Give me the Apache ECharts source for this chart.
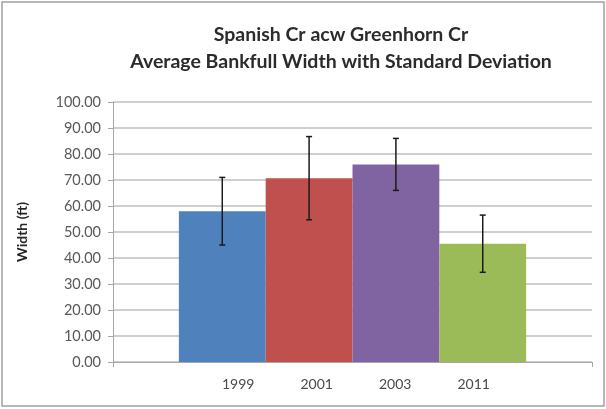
<!DOCTYPE html>
<html lang="en">

<head>
    <meta charset="UTF-8">
    <title>Spanish Cr acw Greenhorn Cr</title>
    <script src="https://cdn.jsdelivr.net/npm/echarts@6/dist/echarts.min.js"></script>
</head>
<style>
    * {
        padding: 0;
        margin: 0;
    }

    .box {
        width: 606px;
        height: 409px;
    }
</style>

<body>
    <div class="box" id="myChart"></div>
    <script>
        // data
        const years = ["1999", "2001", "2003", "2011"];
        const avgWidth = [58.0, 70.7, 76.0, 45.5];
        const stdDev = [13.0, 16.0, 10.0, 11.0];
        const yTicks = [0, 10, 20, 30, 40, 50, 60, 70, 80, 90, 100];

        const colors = ["#4f81bd", "#c0504d", "#8064a2", "#9bbb59"];
        const catGap = 0.275; // share of the category band left empty

        let myChart = echarts.init(document.getElementById('myChart'));

        let barSeries = years.map(function (y, i) {
            return {
                name: y,
                type: "bar",
                barGap: "0%",
                barCategoryGap: (catGap * 100) + "%",
                itemStyle: { color: colors[i] },
                data: [avgWidth[i]]
            };
        });

        // error bars drawn over the bars: [category, low, high, series index]
        let errData = years.map(function (y, i) {
            return [0, avgWidth[i] - stdDev[i], avgWidth[i] + stdDev[i], i];
        });

        let errSeries = {
            type: "custom",
            name: "sd",
            encode: { x: 0, y: [1, 2] },
            z: 10,
            renderItem: function (params, api) {
                let idx = api.value(3);
                let band = api.size([1, 0])[0];
                let barW = band * (1 - catGap) / years.length;
                let lo = api.coord([api.value(0), api.value(1)]);
                let hi = api.coord([api.value(0), api.value(2)]);
                let x = lo[0] + (idx - (years.length - 1) / 2) * barW;
                let cap = 3;
                let st = { stroke: "#1a1a1a", lineWidth: 1.5 };
                return {
                    type: "group",
                    children: [
                        { type: "line", shape: { x1: x, y1: hi[1], x2: x, y2: lo[1] }, style: st },
                        { type: "line", shape: { x1: x - cap, y1: hi[1], x2: x + cap, y2: hi[1] }, style: st },
                        { type: "line", shape: { x1: x - cap, y1: lo[1], x2: x + cap, y2: lo[1] }, style: st }
                    ]
                };
            },
            data: errData
        };

        let option = {
            backgroundColor: "#ffffff",
            animation: false,
            graphic: [{
                type: "rect",
                shape: { x: 2, y: 2, width: 602, height: 404 },
                style: { fill: "none", stroke: "#a0a0a0", lineWidth: 1.5 }
            }],
            title: {
                text: "Spanish Cr acw Greenhorn Cr\nAverage Bankfull Width with Standard Deviation",
                left: 336,
                top: 16,
                textAlign: "center",
                textStyle: {
                    fontFamily: "Lato",
                    fontSize: 19.5,
                    fontWeight: "bold",
                    color: "#2b2b2b",
                    lineHeight: 27
                }
            },
            legend: {
                data: years,
                bottom: 13,
                left: 212,
                icon: "none",
                itemWidth: 0,
                itemGap: 41,
                selectedMode: false,
                textStyle: {
                    fontFamily: "Lato",
                    fontSize: 14,
                    color: "#4a4a4a"
                }
            },
            grid: {
                left: 113,
                right: 14,
                top: 102,
                bottom: 47
            },
            xAxis: {
                type: "category",
                data: [""],
                axisLine: { lineStyle: { color: "#a6a6a6" } },
                axisTick: { show: true, length: 5, lineStyle: { color: "#a6a6a6" } },
                axisLabel: { show: false }
            },
            yAxis: {
                type: "value",
                min: yTicks[0],
                max: yTicks[yTicks.length - 1],
                interval: yTicks[1] - yTicks[0],
                name: "Width (ft)",
                nameLocation: "middle",
                nameGap: 84,
                nameTextStyle: {
                    fontFamily: "Lato",
                    fontSize: 14,
                    fontWeight: "bold",
                    color: "#262626"
                },
                axisLine: { show: true, lineStyle: { color: "#a6a6a6" } },
                axisTick: { show: true, length: 5, lineStyle: { color: "#a6a6a6" } },
                axisLabel: {
                    margin: 12,
                    fontFamily: "Lato",
                    fontSize: 14.5,
                    color: "#595959",
                    formatter: function (v) { return v.toFixed(2); }
                },
                splitLine: {
                    show: true,
                    lineStyle: { color: "#bfbfbf", width: 1.5 }
                }
            },
            series: barSeries.concat([errSeries])
        };
        myChart.setOption(option, true);
    </script>

</body>

</html>
